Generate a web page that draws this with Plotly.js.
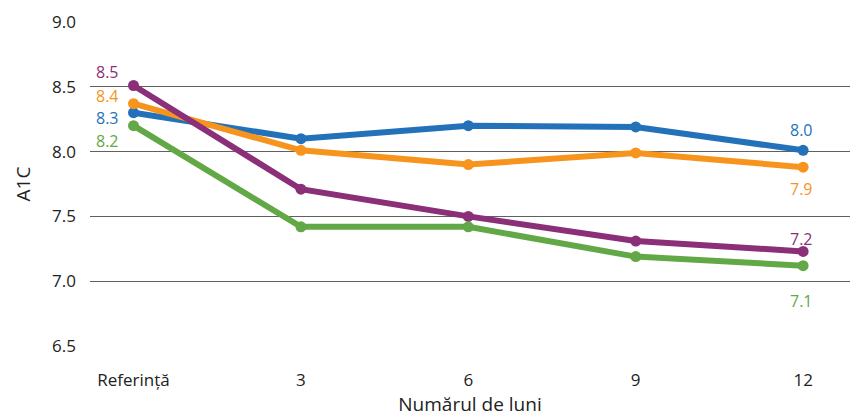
<!DOCTYPE html>
<html>
<head>
<meta charset="utf-8">
<script src="https://cdn.plot.ly/plotly-3.0.1.min.js"></script>
<style>html,body{margin:0;padding:0;background:#fff;}#chart{width:854px;height:417px;}</style>
</head>
<body>
<div id="chart"></div>
<script>
const categories = ["Referință", "3", "6", "9", "12"];
const blueValues = [8.3, 8.1, 8.2, 8.19, 8.01];
const orangeValues = [8.37, 8.01, 7.9, 7.99, 7.88];
const purpleValues = [8.51, 7.71, 7.5, 7.31, 7.23];
const greenValues = [8.2, 7.42, 7.42, 7.19, 7.12];
const startLabels = ["8.5", "8.4", "8.3", "8.2"];
const endLabels = ["8.0", "7.9", "7.2", "7.1"];

const colors = {blue: "#2372b9", orange: "#f7941e", purple: "#8a2f78", green: "#62a846"};
const font = "'Open Sans', sans-serif";

function series(vals, color) {
  return {
    x: categories, y: vals, type: "scatter", mode: "lines+markers",
    line: {color: color, width: 6}, marker: {color: color, size: 11},
    hoverinfo: "skip", showlegend: false, cliponaxis: false
  };
}

const data = [
  series(blueValues, colors.blue),
  series(orangeValues, colors.orange),
  series(purpleValues, colors.purple),
  series(greenValues, colors.green)
];

const first = 0, last = categories.length - 1;
function ann(idx, y, text, color, xshift, yshift) {
  return {x: idx, y: y, xref: "x", yref: "y", text: text, showarrow: false,
    font: {family: font, size: 16, color: color}, xshift: xshift, yshift: yshift, borderpad: 0};
}

const annotations = [
  ann(first, purpleValues[0], startLabels[0], colors.purple, -26, 14),
  ann(first, orangeValues[0], startLabels[1], colors.orange, -26, 8),
  ann(first, blueValues[0], startLabels[2], colors.blue, -26, -5),
  ann(first, greenValues[0], startLabels[3], colors.green, -26, -15),
  ann(last, blueValues[4], endLabels[0], colors.blue, -2, 20),
  ann(last, orangeValues[4], endLabels[1], colors.orange, -2, -22),
  ann(last, purpleValues[4], endLabels[2], colors.purple, -2, 12),
  ann(last, greenValues[4], endLabels[3], colors.green, -2, -35)
];

const layout = {
  width: 854, height: 417,
  margin: {l: 90, r: 4, t: 22, b: 71},
  paper_bgcolor: "#fff", plot_bgcolor: "#fff",
  font: {family: font, size: 17, color: "#222"},
  xaxis: {
    type: "category", range: [-0.26, 4.28],
    showgrid: false, zeroline: false, showline: false,
    ticks: "", ticklabelstandoff: 22,
    tickfont: {family: font, size: 17, color: "#222"},
    title: {text: "Numărul de luni", font: {family: font, size: 19, color: "#222"}, standoff: 7}
  },
  yaxis: {
    range: [6.5, 9.0], tickvals: [6.5, 7.0, 7.5, 8.0, 8.5, 9.0],
    ticktext: ["6.5", "7.0", "7.5", "8.0", "8.5", "9.0"],
    showgrid: true, gridcolor: "#606060", gridwidth: 1.2,
    zeroline: false, showline: false, ticks: "", ticklabelstandoff: 13,
    tickfont: {family: font, size: 17, color: "#222"},
    title: {text: "A1C", font: {family: font, size: 19, color: "#222"}, standoff: 16}
  },
  annotations: annotations
};

Plotly.newPlot("chart", data, layout, {displayModeBar: false, staticPlot: true});
</script>
</body>
</html>
